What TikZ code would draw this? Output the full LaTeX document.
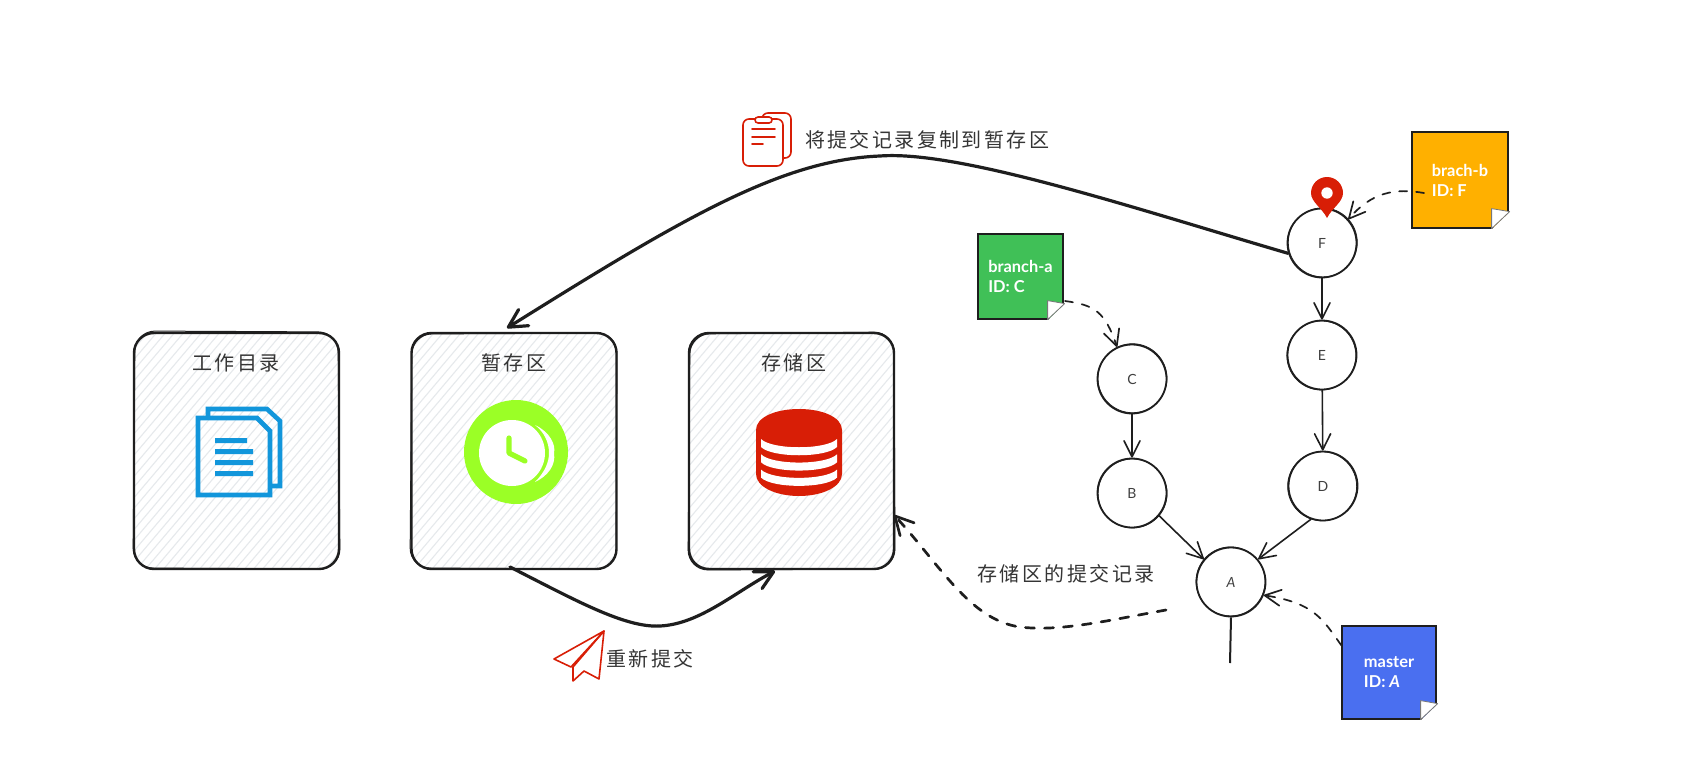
\documentclass[tikz,border=0pt]{standalone}
\usepackage{fontspec}
\usetikzlibrary{arrows.meta,calc}
\newfontfamily\cjkfont[LetterSpace=12]{Noto Sans CJK SC}
\newfontfamily\latinfont{Lato}
\definecolor{ink}{HTML}{1E1E1E}
\definecolor{hatchc}{HTML}{E6E9EC}
\definecolor{iconred}{HTML}{D81E06}
\definecolor{iconblue}{HTML}{1296DB}
\definecolor{icongreen}{HTML}{9BFF26}
\definecolor{stickerg}{HTML}{40C057}
\definecolor{stickero}{HTML}{FFB000}
\definecolor{stickerb}{HTML}{4A6FF0}
\tikzset{
  x=0.5pt,y=-0.5pt,
  storebox/.style={draw=ink,line width=1.2pt,rounded corners=10pt,minimum width=102.5pt,minimum height=118pt,inner sep=0pt,
    path picture={\foreach \k in {-26,...,26}{\draw[hatchc,line width=0.55pt] (path picture bounding box.center) ++(\k*9-110,130) -- ++(220,-260);}}},
  sketchline/.style={ink,line width=0.5pt,rounded corners=10pt},
  cjklabel/.style={font=\cjkfont\fontsize{10}{12}\selectfont,text=ink!90,inner sep=0pt},
  commit/.style={circle,draw=ink,fill=white,line width=0.9pt,minimum size=34.5pt,inner sep=0pt,font=\latinfont\fontsize{7}{8}\selectfont,text=ink!85},
  sticker/.style={rectangle,draw=ink,line width=0.6pt,inner sep=0pt,align=left,text=white,font=\latinfont\bfseries\fontsize{8.2}{10}\selectfont},
  fold/.style={fill=white,draw=ink!60,line width=0.4pt,line join=round},
  bigarrow/.style={draw=ink,line width=1.6pt,line cap=round,line join=round,-{Straight Barb[length=9pt,width=9.5pt,round]}},
  thinarrow/.style={draw=ink,line width=0.8pt,line cap=round,line join=round,-{Straight Barb[length=8pt,width=8pt,round]}},
  dashthin/.style={thinarrow,line width=0.85pt,dash pattern=on 4pt off 4.5pt},
  dashbig/.style={bigarrow,line width=1.35pt,dash pattern=on 4.5pt off 5pt},
  redline/.style={draw=iconred,line width=0.8pt,line join=round,line cap=round},
}
\begin{document}
\begin{tikzpicture}
\useasboundingbox[fill=white] (0,0) rectangle (1697,781);
% stores
\node[storebox] (work) at (236.5,451) {};
\node[storebox] (stage) at (514,451) {};
\node[storebox] (store) at (791.5,451) {};
% sketch double strokes
\draw[sketchline] (135,331) -- (338,332) -- (340,569) -- (133,568) -- cycle;
\draw[sketchline] (412,334) -- (617,333) -- (616,569) -- (410,568) -- cycle;
\draw[sketchline] (690,334) -- (894,332) -- (895,569) -- (688,570) -- cycle;
\node[cjklabel] (workl) at (236,363) {工作目录};
\node[cjklabel] (stagel) at (514,363) {暂存区};
\node[cjklabel] (storel) at (794,363) {存储区};
% documents icon
\draw[iconblue,line width=2.3pt,line join=miter] (208,416) -- (208,409) -- (267,409) -- (280,421) -- (280,486) -- (272,486);
\draw[iconblue,line width=2.3pt,line join=miter] (198,418) -- (257,418) -- (270,431) -- (270,495) -- (198,495) -- cycle;
\fill[iconblue] (215,438) rectangle (247,443) (215,449) rectangle (253,454) (215,460) rectangle (253,465) (215,471) rectangle (253,476);
% clock icon
\fill[icongreen] (516,452) circle[radius=52];
\fill[white] (512,453) circle[radius=33];
\fill[white] (535,425) .. controls (550,432) and (556,445) .. (554,453) .. controls (556,465) and (548,476) .. (535,482)
  .. controls (545,472) and (549,462) .. (549,453) .. controls (549,442) and (544,432) .. (535,425) -- cycle;
\draw[icongreen,line width=2.6pt,line cap=round,line join=round] (509,438) -- (509,453) -- (525,461);
% database icon
\fill[iconred] (756,430) .. controls (756,417) and (776,409) .. (799,409) .. controls (822,409) and (842,417) .. (842,430)
  -- (842,474) .. controls (842,487) and (822,496) .. (799,496) .. controls (776,496) and (756,487) .. (756,474) -- cycle;
\foreach \dy in {0,15.3,30.6}{
  \fill[white] (761,439+\dy) .. controls (772,450+\dy) and (826,450+\dy) .. (837,439+\dy) -- (837,447+\dy) .. controls (826,458+\dy) and (772,458+\dy) .. (761,447+\dy) -- cycle;
}
% commits
\node[commit] (F) at (1322,243) {F};
\node[commit] (E) at (1322,355) {E};
\node[commit] (D) at (1323,486) {D};
\node[commit] (C) at (1132,379) {C};
\node[commit] (B) at (1132,493) {B};
\node[commit] (A) at (1231,582) {\itshape A};
\foreach \n/\dx/\dy in {F/0.8/-0.6,E/-0.7/0.5,D/-0.9/0.3,C/0.5/-0.8,B/0.6/0.5,A/-0.5/-0.6}{
  \draw[ink,line width=0.35pt] ($(\n)+(\dx,\dy)$) circle[radius=34.5];
}
% stickers
\node[sticker,fill=stickerg,minimum width=42.5pt,minimum height=42.5pt] (sa) at (1020.5,276.5) {branch-a\\ID: C};
\node[sticker,fill=stickero,minimum width=48pt,minimum height=48pt] (sb) at (1460,180) {brach-b\\ID: F};
\node[sticker,fill=stickerb,minimum width=47pt,minimum height=46.5pt] (sm) at (1389,672.5) {master\\ID: \itshape A};
\foreach \n/\fx/\fy in {sa/16/16,sb/17/17,sm/16/16}{
  \fill[white] ($(\n.south east)+(-\fx,0.8)$) -- ($(\n.south east)+(1.5,0.8)$) -- ($(\n.south east)+(1.5,-\fy)$) -- cycle;
  \draw[fold] ($(\n.south east)+(-\fx,0)$) -- ($(\n.south east)+(1,-\fy)$) -- ($(\n.south east)+(-\fx,-\fy-3)$) -- cycle;
}
% pin
\fill[iconred] (1327,218) .. controls (1322,208) and (1311,202) .. (1311,193) arc[start angle=180,end angle=360,radius=16] .. controls (1343,202) and (1332,208) .. (1327,218) -- cycle;
\fill[white] (1327,193) circle[radius=5.7];
% connectors between commits
\draw[thinarrow] (F) -- (E);
\draw[thinarrow] (E) -- (D);
\draw[thinarrow] (C) -- (B);
\draw[thinarrow] (B.-40) -- (A.140);
\draw[thinarrow] (D.250) -- (A.40);
\coordinate (tailend) at (1230,663);
\draw[draw=ink,line width=1pt] (A.south) -- (tailend);
% sticker connectors
\coordinate (sbstart) at (1424,193);
\draw[dashthin] (sbstart) .. controls (1395,188) and (1372,192) .. (F.42);
\coordinate (sastart) at (1065,301);
\draw[dashthin] (sastart) .. controls (1095,305) and (1105,312) .. (C.115);
\coordinate (smstart) at (sm.north west);
\draw[dashthin] ([yshift=-10pt]smstart) .. controls (1323,620) and (1315,603) .. (A.-22);
% main curved connectors
\coordinate (stagein) at (507,328);
\draw[bigarrow] (F.197) .. controls (1140,210) and (960,150) .. (880,156) .. controls (780,160) and (680,220) .. (stagein);
\coordinate (stageout) at (510,567);
\coordinate (storein) at (775,571);
\draw[bigarrow] (stageout) .. controls (575,600) and (625,628) .. (660,626) .. controls (700,624) and (735,592) .. (storein);
\coordinate (dashstart) at (1166,610);
\coordinate (storeside) at (894,515);
\draw[dashbig] (dashstart) .. controls (1110,620) and (1060,632) .. (1020,627) .. controls (970,620) and (940,565) .. (storeside);
% labels
\node[cjklabel] (copyl) at (927,140) {将提交记录复制到暂存区};
\node[cjklabel] (resubl) at (650,659) {重新提交};
\node[cjklabel] (histl) at (1066,574) {存储区的提交记录};
% clipboard icon
\draw[redline,rounded corners=3pt] (762,119) -- (762,113) -- (791,113) -- (791,158) -- (783,158);
\draw[redline,rounded corners=3pt] (743,119) rectangle (783,166);
\draw[redline,fill=white,rounded corners=1.5pt] (755,117) rectangle (772,123);
\draw[redline] (752,129) -- (775,129) (752,137) -- (775,137) (752,144) -- (763,144);
% paper plane icon
\draw[redline] (604,631) -- (554,659) -- (571,667) -- (604,631);
\draw[redline] (604,631) -- (573,667) -- (573,681) -- (584,671) -- (599,679) -- cycle;
\end{tikzpicture}
\end{document}
